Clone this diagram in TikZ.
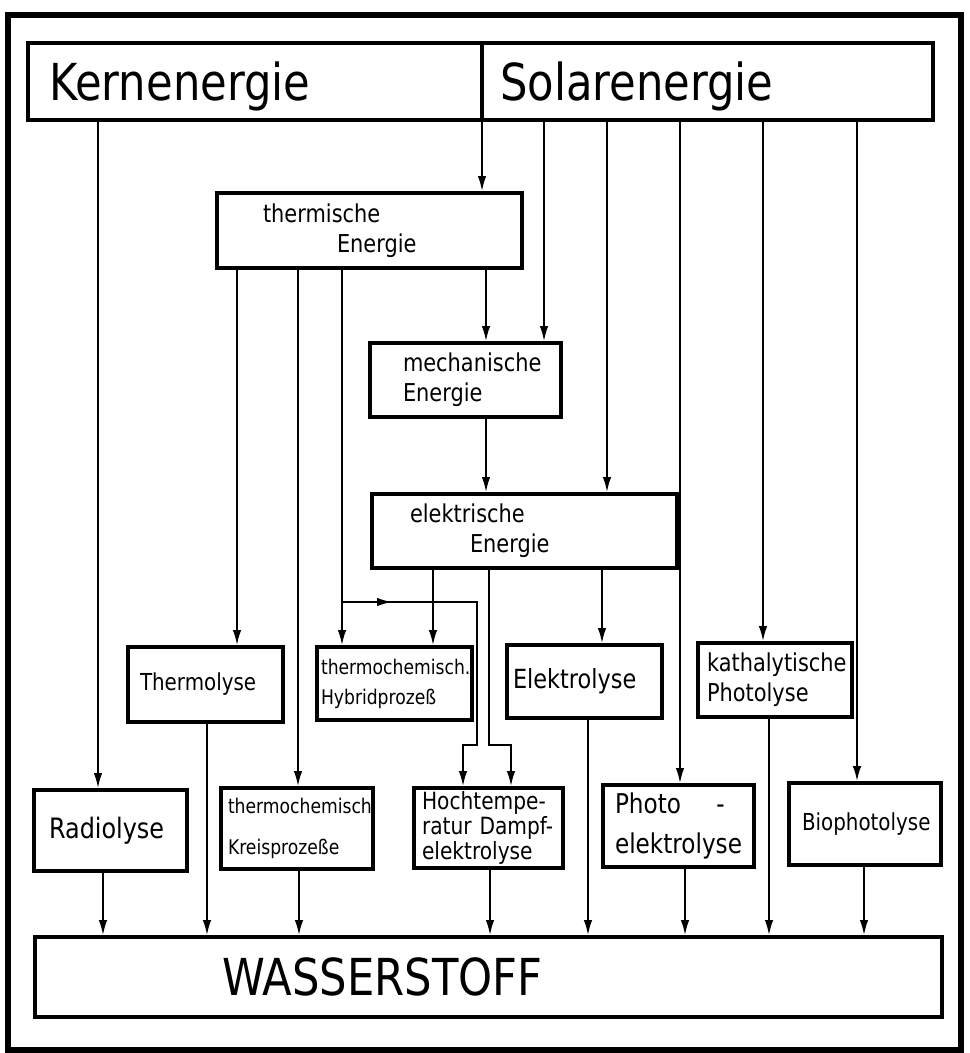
\documentclass[tikz,border=0pt]{standalone}
\usepackage{fontspec}
\setmainfont{DejaVu Sans}[FakeStretch=0.85]
\usepackage{tikz}
\usetikzlibrary{arrows.meta}
\tikzset{
  box/.style   = {shape=rectangle, draw, line width=2.2pt, align=left,
          inner xsep=0pt, inner ysep=0pt},
  huge/.style  = {box, font=\fontsize{29}{32}\selectfont, text depth=0pt},
  mid/.style   = {box, font=\fontsize{14}{17}\selectfont},
  small/.style = {box, font=\fontsize{11.5}{17}\selectfont},
  arr/.style   = {draw, line width=1pt, -{Latex[length=3mm,width=1.7mm]}}
}

\begin{document}
\begin{tikzpicture}[x=0.02cm, y=-0.02cm]
  \useasboundingbox (0,0) rectangle (969,1053);
  \draw[line width=3pt] (8,15) rectangle (961,1050);
  % Energiequellen
  \node [huge, text width=9.08cm, minimum height=1.54cm] (kern) at (255,81.5)
    {\hspace*{0.42cm}Kernenergie};
  \node [huge, text width=9.02cm, minimum height=1.54cm] (solar) at (707.5,81.5)
    {\hspace*{0.36cm}Solarenergie};
  % Energieformen
  \node [mid, text width=6.1cm, minimum height=1.5cm] (therm) at (369.5,230.5)
    {\hspace*{0.92cm}thermische\\\hspace*{2.4cm}Energie};
  \node [mid, text width=3.82cm, minimum height=1.48cm] (mech) at (465.5,380)
    {\hspace*{0.66cm}mechanische\\\hspace*{0.66cm}Energie};
  \node [mid, text width=6.1cm, minimum height=1.48cm] (elek) at (524.5,531)
    {\hspace*{0.76cm}elektrische\\\hspace*{1.96cm}Energie};
  % Verfahren
  \node [mid, font=\fontsize{13.3}{17}\selectfont, text width=3.1cm, minimum height=1.5cm]
    (thermo) at (205.5,684.5) {\hspace*{0.24cm}Thermolyse};
  \node [small, text width=3.1cm, minimum height=1.46cm] (hybrid) at (394.5,683.5)
    {\hspace*{0.08cm}thermochemisch.\\\hspace*{0.08cm}Hybridprozeß};
  \node [mid, font=\fontsize{15}{17}\selectfont, text width=3.1cm, minimum height=1.46cm]
    (elyse) at (584.5,681.5) {\hspace*{0.12cm}Elektrolyse};
  \node [mid, text width=3.08cm, minimum height=1.48cm] (kath) at (775,680)
    {\hspace*{0.18cm}kathalytische\\\hspace*{0.18cm}Photolyse};
  \node [mid, font=\fontsize{16}{17}\selectfont, text width=3.06cm, minimum height=1.62cm]
    (radio) at (110.5,830.5) {\hspace*{0.3cm}Radiolyse};
  \node [small, font=\fontsize{11.5}{23}\selectfont, text width=3.04cm, minimum height=1.62cm]
    (kreis) at (297,828.5) {\hspace*{0.14cm}thermochemisch\\\hspace*{0.14cm}Kreisprozeße};
  \node [mid, font=\fontsize{13.5}{13}\selectfont, text width=2.98cm, minimum height=1.6cm]
    (hoch) at (488.5,828)
    {\hspace*{0.16cm}Hochtempe-\\\hspace*{0.16cm}ratur Dampf-\\\hspace*{0.16cm}elektrolyse};
  \node [mid, font=\fontsize{15.5}{23}\selectfont, text width=3.02cm, minimum height=1.64cm]
    (photo) at (678.5,826) {\hspace*{0.24cm}Photo\hspace{1.3em}-\\\hspace*{0.24cm}elektrolyse};
  \node [mid, font=\fontsize{13.3}{17}\selectfont, text width=3.04cm, minimum height=1.64cm]
    (bio) at (865,824) {\hspace*{0.26cm}Biophotolyse};
  \node [huge, text width=18.14cm, minimum height=1.6cm] (wasser) at (488.5,977)
    {\hspace*{3.74cm}WASSERSTOFF};

  % aus Kern- und Solarenergie
  \draw[arr] (98,0 |- kern.south) -- (98,0 |- radio.north);
  \draw[arr] (482,0 |- solar.south) -- (482,0 |- therm.north);
  \draw[arr] (544,0 |- solar.south) -- (544,0 |- mech.north);
  \draw[arr] (607,0 |- solar.south) -- (607,0 |- elek.north);
  \draw[arr] (680,0 |- solar.south) -- (680,0 |- photo.north);
  \draw[arr] (763,0 |- solar.south) -- (763,0 |- kath.north);
  \draw[arr] (857,0 |- solar.south) -- (857,0 |- bio.north);
  % thermische und mechanische Energie
  \draw[arr] (237,0 |- therm.south) -- (237,0 |- thermo.north);
  \draw[arr] (298,0 |- therm.south) -- (298,0 |- kreis.north);
  \draw[arr] (342,0 |- therm.south) -- (342,0 |- hybrid.north);
  \draw[arr] (486,0 |- therm.south) -- (486,0 |- mech.north);
  \draw[arr] (486,0 |- mech.south) -- (486,0 |- elek.north);
  % elektrische Energie
  \draw[arr] (433,0 |- elek.south) -- (433,0 |- hybrid.north);
  \draw[arr] (602,0 |- elek.south) -- (602,0 |- elyse.north);
  \draw[arr] (489,0 |- elek.south) -- (489,745) -- (511,745) -- (511,0 |- hoch.north);
  \coordinate (abzw) at (342,602);
  \draw[arr] (abzw) -- (392,602);
  \draw[arr] (abzw) -- (477,602) -- (477,745) -- (463,745) -- (463,0 |- hoch.north);
  % zum Wasserstoff
  \foreach \n/\x in {radio/103, thermo/207, kreis/299, hoch/490,
                     elyse/588, photo/685, kath/769, bio/864}
    \draw[arr] (\x,0 |- \n.south) -- (\x,0 |- wasser.north);
\end{tikzpicture}
\end{document}
